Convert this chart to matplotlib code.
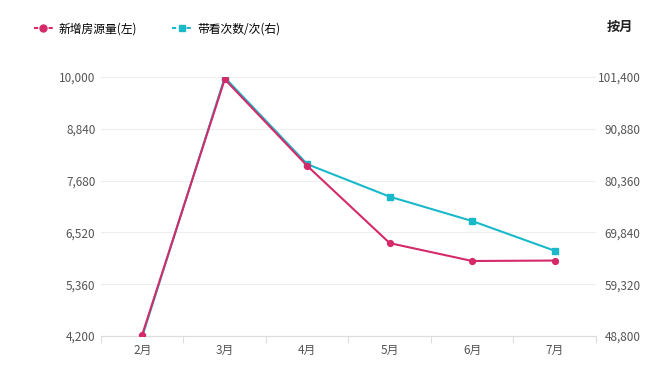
import matplotlib
matplotlib.use("Agg")
import matplotlib.pyplot as plt
from matplotlib.lines import Line2D
import numpy as np

plt.rcParams['font.family'] = ['Noto Sans CJK SC', 'DejaVu Sans']

months = ['2月', '3月', '4月', '5月', '6月', '7月']
new_listings = [4230, 9950, 8010, 6280, 5880, 5890]
viewings = [48700, 101300, 83700, 77100, 72150, 66120]
left_ticks = [4200, 5360, 6520, 7680, 8840, 10000]
right_ticks = [48800, 59320, 69840, 80360, 90880, 101400]

red = '#d42a6a'
cyan = '#19b9c9'
tick_color = '#555555'

fig = plt.figure(figsize=(6.6, 3.89), dpi=100)
ax = fig.add_axes([0.153, 0.1362, 0.750, 0.6658])
ax2 = ax.twinx()

x = np.arange(len(months))
ax2.plot(x, viewings, color=cyan, lw=1.5, marker='s', ms=4.2, zorder=3)
ax.plot(x, new_listings, color=red, lw=1.5, marker='o', ms=4.2, zorder=4)
ax.set_zorder(ax2.get_zorder() + 1)
ax.patch.set_visible(False)

ax.set_xlim(-0.5, len(months) - 0.5)
ax.set_ylim(left_ticks[0], left_ticks[-1])
ax2.set_ylim(right_ticks[0], right_ticks[-1])

ax.set_yticks(left_ticks)
ax.set_yticklabels([f'{v:,}' for v in left_ticks])
ax2.set_yticks(right_ticks)
ax2.set_yticklabels([f'{v:,}' for v in right_ticks])

ax.set_xticks(x)
ax.set_xticklabels(months)
ax.set_xticks(np.arange(-0.5, len(months)), minor=True)
ax.tick_params(axis='x', which='major', length=0, pad=6, labelsize=8.5, colors=tick_color)
ax.tick_params(axis='x', which='minor', length=5, color='#dddddd', width=0.8)
ax.tick_params(axis='y', length=0, pad=4, labelsize=8.5, colors=tick_color)
ax2.tick_params(axis='y', length=0, pad=32, labelsize=8.5, colors=tick_color)
for t in ax2.get_yticklabels():
    t.set_ha('right')

ax.grid(False)
ax2.grid(axis='y', color='#eeeeee', lw=0.8, zorder=0)
ax2.set_axisbelow(True)
for a in (ax, ax2):
    for s in ['top', 'left', 'right']:
        a.spines[s].set_visible(False)
    a.spines['bottom'].set_color('#dddddd')
    a.spines['bottom'].set_linewidth(0.8)

handles = [Line2D([], [], color=red, lw=1.5, ls=(0, (2, 1.5)), marker='o', ms=5),
           Line2D([], [], color=cyan, lw=1.5, ls=(0, (2, 1.5)), marker='s', ms=5)]
fig.legend(handles, ['新增房源量(左)', '带看次数/次(右)'], loc='upper left',
           bbox_to_anchor=(0.035, 0.97), ncol=2, frameon=False, fontsize=8.5,
           handlelength=1.6, handletextpad=0.5, columnspacing=3.0)

fig.text(0.94, 0.93, '按月', ha='center', va='center', fontsize=9.5,
         fontweight='bold', color='#222222')

fig.savefig('out.png', dpi=100, facecolor='white')
